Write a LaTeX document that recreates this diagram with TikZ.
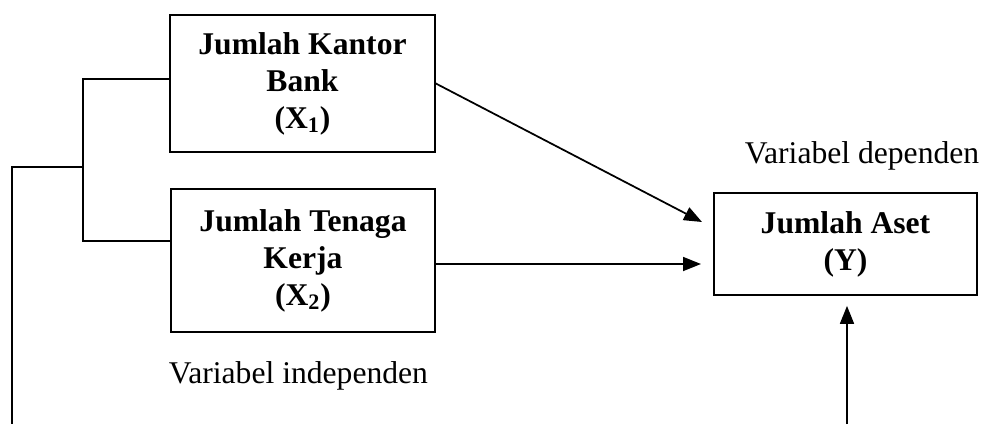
\documentclass[tikz,border=0pt]{standalone}
\usepackage{fontspec}
\setmainfont{Liberation Serif}
\usetikzlibrary{positioning, arrows.meta}
\tikzset{
  varbox/.style={draw,rectangle,line width=1pt,align=center,font=\fontsize{18}{21}\selectfont\bfseries},
  link/.style={line width=1pt},
  arr/.style={line width=1pt,-{Triangle[length=0.36cm,width=0.28cm]}},
  caption/.style={font=\fontsize{18}{21}\selectfont}
}
\begin{document}
\begin{tikzpicture}[x=0.02cm,y=-0.02cm]
\useasboundingbox (0,0) rectangle (988,424);
\node[varbox,minimum width=5.3cm,minimum height=2.74cm] (X1) at (302.5,83.5) {Jumlah Kantor\\Bank\\(X\textsubscript{1})};
\node[varbox,minimum width=5.28cm,minimum height=2.86cm] (X2) at (303,260.5) {Jumlah Tenaga\\Kerja\\(X\textsubscript{2})};
\node[varbox,minimum width=5.26cm,minimum height=2.04cm] (Y) at (845.5,244) {Jumlah Aset\\(Y)};
\node[caption] (indep) at (298.5,376) {Variabel independen};
\node[caption] (dep) at (862,156) {Variabel dependen};

% bracket on the left
\coordinate (joint) at (83,167);
\coordinate (foot) at (12,424);
\coordinate (base) at (847,424);
\coordinate (in1) at (702,222);
\coordinate (in2) at (701,264);
\draw[link] ([yshift=0.09cm]X1.west) -| (joint) |- ([yshift=0.39cm]X2.west);
\draw[link] (joint) -| (foot);

\draw[arr] (X1.east) -- (in1);
\draw[arr] (X2.east |- in2) -- (in2);
\draw[arr] (base) -- ([yshift=-0.2cm]Y.south -| base);
\end{tikzpicture}
\end{document}
